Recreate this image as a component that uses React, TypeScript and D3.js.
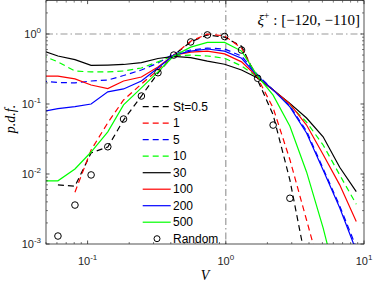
import React from 'react';
import * as d3 from 'd3';

// bin centres (shared by all St curves)
const V = [0.046, 0.061, 0.081, 0.106, 0.14, 0.182, 0.245, 0.323, 0.42, 0.557, 0.736, 0.98, 1.3, 1.7, 2.2, 2.91, 3.84, 5.06, 6.67, 8.79];

const st05 = [null, 0.007, 0.0067, 0.02, 0.0243, 0.059, 0.13, 0.277, 0.5, 0.77, 0.97, 0.9, 0.67, 0.22, 0.07, 0.0082, 0.0005, null, null, null];
const st1 = [null, null, 0.0055, 0.022, 0.054, 0.114, 0.193, 0.306, 0.5, 0.79, 1.0, 0.94, 0.63, 0.235, 0.088, 0.016, 0.0022, 0.0003, null, null];
const st5 = [0.213, 0.203, 0.2, 0.213, 0.22, 0.255, 0.306, 0.385, 0.52, 0.59, 0.63, 0.61, 0.485, 0.26, 0.159, 0.094, 0.041, 0.012, 0.0035, 0.0009];
const st10 = [0.5, 0.4, 0.296, 0.287, 0.287, 0.296, 0.327, 0.4, 0.49, 0.5, 0.485, 0.45, 0.35, 0.243, 0.159, 0.097, 0.055, 0.026, 0.0097, 0.0037];
const st30 = [0.59, 0.485, 0.43, 0.357, 0.36, 0.367, 0.39, 0.447, 0.48, 0.46, 0.41, 0.37, 0.306, 0.235, 0.159, 0.102, 0.063, 0.034, 0.0125, 0.0056];
const st100 = [0.25, 0.25, 0.228, 0.187, 0.166, 0.213, 0.243, 0.338, 0.5, 0.55, 0.57, 0.52, 0.4, 0.243, 0.159, 0.1, 0.05, 0.019, 0.007, 0.0021];
const st200 = [0.077, 0.086, 0.092, 0.1, 0.149, 0.164, 0.213, 0.327, 0.5, 0.57, 0.61, 0.57, 0.45, 0.25, 0.159, 0.091, 0.0385, 0.0114, 0.0033, 0.0008];
const st500 = [0.008, 0.008, 0.0118, 0.0206, 0.04, 0.097, 0.17, 0.287, 0.485, 0.65, 0.76, 0.76, 0.57, 0.25, 0.134, 0.048, 0.0107, 0.0017, 0.0002, null];

const randomV = [0.061, 0.081, 0.106, 0.14, 0.182, 0.245, 0.323, 0.42, 0.557, 0.736, 0.98, 1.3, 1.7, 2.2, 2.91];
const randomP = [0.0013, 0.0036, 0.0097, 0.0245, 0.061, 0.13, 0.28, 0.5, 0.77, 0.97, 0.92, 0.59, 0.233, 0.05, 0.0045];

const legendLabels = ['St=0.5', '1', '5', '10', '30', '100', '200', '500'];
const xTickExp = [-1, 0, 1];
const yTickExp = [-3, -2, -1, 0];

const W = 374, H = 282;
const left = 46, right = 364, top = 0.6, bottom = 244;

const series = [
  { values: st05, color: '#000000', dash: '6,4' },
  { values: st1, color: '#ff0000', dash: '6,4' },
  { values: st5, color: '#0000ff', dash: '6,4' },
  { values: st10, color: '#00ff00', dash: '6,4' },
  { values: st30, color: '#000000', dash: null },
  { values: st100, color: '#ff0000', dash: null },
  { values: st200, color: '#0000ff', dash: null },
  { values: st500, color: '#00ff00', dash: null },
];

export default function App() {
  const x = d3.scaleLog().domain([0.05, 10]).range([left, right]);
  const y = d3.scaleLog().domain([1e-3, 3]).range([bottom, top]);

  const line = d3.line<any>()
    .defined((d) => d[1] != null)
    .x((d) => x(d[0]))
    .y((d) => y(d[1]));

  // minor ticks
  const xMinor: number[] = [];
  [0.01, 0.1, 1].forEach((b) => { for (let k = 2; k <= 9; k++) { const v = b * k; if (v >= 0.05 && v < 10) xMinor.push(v); } });
  const yMinor: number[] = [];
  [0.001, 0.01, 0.1, 1].forEach((b) => { for (let k = 2; k <= 9; k++) { const v = b * k; if (v <= 3) yMinor.push(v); } });

  const axisColor = '#262626';
  const font = 'Liberation Sans, Arial, sans-serif';
  const serif = 'Liberation Serif, Times New Roman, serif';
  const gridStyle = { stroke: '#9a9a9a', strokeWidth: 1.2, strokeDasharray: '7,3,1.5,3' };

  const legX0 = 142.7, legX1 = 170.7, legY0 = 106.7, legStep = 16.5;

  return (
    <svg width={W} height={H} style={{ position: 'absolute', left: 0, top: 0, background: '#fff' }}>
      <defs>
        <clipPath id="plot">
          <rect x={left} y={top} width={right - left} height={bottom - top} />
        </clipPath>
      </defs>
      <rect x={0} y={0} width={W} height={H} fill="#fff" />

      {/* reference lines */}
      <line x1={left} x2={right} y1={y(1)} y2={y(1)} style={gridStyle} />
      <line x1={x(1)} x2={x(1)} y1={top} y2={bottom} style={gridStyle} />

      <g clipPath="url(#plot)">
        {series.map((s, i) => (
          <path key={i}
            d={line(V.map((v, j) => [v, s.values[j]])) || ''}
            fill="none" stroke={s.color} strokeWidth={1.2}
            strokeDasharray={s.dash || undefined} />
        ))}
        {randomV.map((v, i) => (
          <circle key={i} cx={x(v)} cy={y(randomP[i])} r={3.3} fill="none" stroke="#000" strokeWidth={1} />
        ))}
      </g>

      {/* box and ticks */}
      <rect x={left} y={top} width={right - left} height={bottom - top} fill="none" stroke={axisColor} strokeWidth={0.8} />
      {xTickExp.map((e) => {
        const px = x(Math.pow(10, e));
        return (
          <g key={'xt' + e}>
            <line x1={px} x2={px} y1={bottom} y2={bottom - 3.5} stroke={axisColor} strokeWidth={0.8} />
            <line x1={px} x2={px} y1={top} y2={top + 3.5} stroke={axisColor} strokeWidth={0.8} />
            <text x={px} y={265} textAnchor="middle" fontFamily={font} fontSize={11} fill={axisColor}>
              10<tspan dy={-5} fontSize={8}>{e}</tspan>
            </text>
          </g>
        );
      })}
      {xMinor.map((v, i) => (
        <g key={'xm' + i}>
          <line x1={x(v)} x2={x(v)} y1={bottom} y2={bottom - 2} stroke={axisColor} strokeWidth={0.6} />
          <line x1={x(v)} x2={x(v)} y1={top} y2={top + 2} stroke={axisColor} strokeWidth={0.6} />
        </g>
      ))}
      {yTickExp.map((e) => {
        const py = y(Math.pow(10, e));
        return (
          <g key={'yt' + e}>
            <line x1={left} x2={left + 3.5} y1={py} y2={py} stroke={axisColor} strokeWidth={0.8} />
            <line x1={right} x2={right - 3.5} y1={py} y2={py} stroke={axisColor} strokeWidth={0.8} />
            <text x={41} y={py + 4} textAnchor="end" fontFamily={font} fontSize={11} fill={axisColor}>
              10<tspan dy={-5} fontSize={8}>{e}</tspan>
            </text>
          </g>
        );
      })}
      {yMinor.map((v, i) => (
        <g key={'ym' + i}>
          <line x1={left} x2={left + 2} y1={y(v)} y2={y(v)} stroke={axisColor} strokeWidth={0.6} />
          <line x1={right} x2={right - 2} y1={y(v)} y2={y(v)} stroke={axisColor} strokeWidth={0.6} />
        </g>
      ))}

      {/* axis labels */}
      <text x={205} y={280} textAnchor="middle" fontFamily={serif} fontStyle="italic" fontSize={14} fill="#000">V</text>
      <text transform="translate(15,119) rotate(-90)" textAnchor="middle" fontFamily={serif} fontStyle="italic" fontSize={14} fill="#000">p.d.f.</text>

      {/* annotation */}
      <text x={360} y={25} textAnchor="end" fontFamily={serif} fontSize={15} fill="#000">
        <tspan fontStyle="italic">ξ</tspan><tspan dy={-6} fontSize={10}>+</tspan><tspan dy={6}> : [−120, −110]</tspan>
      </text>

      {/* legend */}
      {legendLabels.map((lab, i) => {
        const s = series[i];
        const ly = legY0 + i * legStep;
        return (
          <g key={'lg' + i}>
            <line x1={legX0} x2={legX1} y1={ly} y2={ly} stroke={s.color} strokeWidth={1.2} strokeDasharray={s.dash || undefined} />
            <text x={173} y={ly + 4.2} fontFamily={font} fontSize={12} fill="#000">{lab}</text>
          </g>
        );
      })}
      <circle cx={157} cy={legY0 + 8 * legStep} r={3} fill="none" stroke="#000" strokeWidth={1} />
      <text x={173} y={legY0 + 8 * legStep + 4.2} fontFamily={font} fontSize={12} fill="#000">Random</text>
    </svg>
  );
}
